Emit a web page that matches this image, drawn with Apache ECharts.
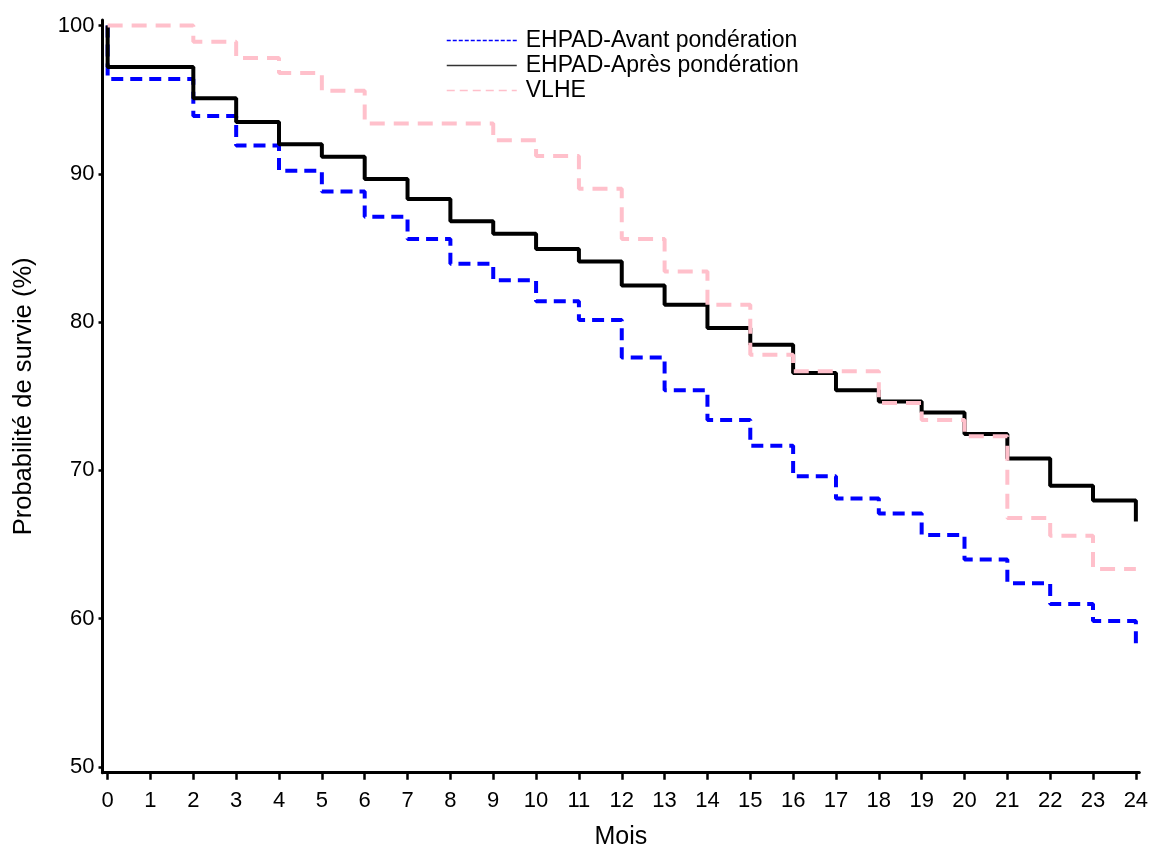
<!DOCTYPE html>
<html>
<head>
<meta charset="utf-8">
<script src="https://cdn.jsdelivr.net/npm/echarts@6/dist/echarts.min.js"></script>
<style>html,body{margin:0;padding:0;background:#fff}#c{width:1151px;height:848px}</style>
</head>
<body>
<div id="c"></div>
<script>
// ---- data ----
var xTicks = [0,1,2,3,4,5,6,7,8,9,10,11,12,13,14,15,16,17,18,19,20,21,22,23,24];
var yTicks = [50,60,70,80,90,100];

var avantName = 'EHPAD-Avant pondération';
var apresName = 'EHPAD-Après pondération';
var vlheName = 'VLHE';

var avantTimes  = [0,0,2,3,4,5,6,7,8,9,10,11,12,13,14,15,16,17,18,19,20,21,22,23,24];
var avantValues = [100,96.4,93.9,91.9,90.2,88.8,87.1,85.6,83.94,82.82,81.4,80.14,77.62,75.4,73.4,71.66,69.6,68.1,67.1,65.65,64.0,62.4,61.0,59.85,58.2];

var apresTimes  = [0,0,2,3,4,5,6,7,8,9,10,11,12,13,14,15,16,17,18,19,20,21,22,23,24];
var apresValues = [100,97.2,95.1,93.5,92.0,91.15,89.65,88.3,86.8,85.96,84.93,84.08,82.47,81.17,79.6,78.48,76.57,75.4,74.65,73.9,72.45,70.8,68.96,67.97,66.55];

var vlheTimes  = [0,2,3,4,5,6,9,10,11,12,13,14,15,16,18,19,20,21,22,23,24];
var vlheValues = [100,98.9,97.8,96.8,95.6,93.4,92.26,91.2,89.0,85.6,83.42,81.17,77.8,76.68,74.54,73.4,72.3,66.8,65.6,63.35,63.35];

function pairs(t, v) { return t.map(function (x, i) { return [x, v[i]]; }); }

var FONT = '"Liberation Sans", Arial, sans-serif';
var chart = echarts.init(document.getElementById('c'), null, { renderer: 'canvas' });
chart.setOption({
  animation: false,
  backgroundColor: '#ffffff',
  grid: { left: 102.5, right: 11.7, top: 20, bottom: 75.3, containLabel: false, outerBoundsMode: 'none' },
  legend: {
    orient: 'vertical',
    left: 441,
    top: 24,
    itemWidth: 70,
    itemHeight: 14,
    itemGap: 2,
    itemStyle: { opacity: 0 },
    textStyle: { fontFamily: FONT, fontSize: 23, lineHeight: 23, color: '#000', padding: [0, 0, 0, 4] },
    data: [
      { name: avantName, lineStyle: { width: 1.3, type: [4, 2] } },
      { name: apresName, lineStyle: { width: 1.5, type: 'solid', color: '#333' } },
      { name: vlheName, lineStyle: { width: 1.3, type: [8, 5] } }
    ]
  },
  xAxis: {
    type: 'value',
    min: -0.12,
    max: 24.08,
    name: 'Mois',
    nameLocation: 'middle',
    nameGap: 52,
    nameTextStyle: { fontFamily: FONT, fontSize: 25, color: '#000' },
    axisLine: { show: true, onZero: false, lineStyle: { color: '#000', width: 3 } },
    axisTick: { show: true, length: 7, lineStyle: { color: '#000', width: 2.5 }, customValues: xTicks },
    axisLabel: { fontFamily: FONT, fontSize: 22, color: '#000', margin: 17, customValues: xTicks },
    splitLine: { show: false }
  },
  yAxis: {
    type: 'value',
    min: 49.62,
    max: 100.37,
    name: 'Probabilité de survie (%)',
    nameLocation: 'middle',
    nameGap: 66,
    nameTextStyle: { fontFamily: FONT, fontSize: 25.5, color: '#000' },
    axisLine: { show: true, onZero: false, lineStyle: { color: '#000', width: 3 } },
    axisTick: { show: true, length: 4, lineStyle: { color: '#000', width: 2.5 }, customValues: yTicks },
    axisLabel: { fontFamily: FONT, fontSize: 22, color: '#000', margin: 8, customValues: yTicks },
    splitLine: { show: false }
  },
  series: [
    {
      name: avantName, type: 'line', step: 'end', symbol: 'none', z: 2,
      lineStyle: { color: '#0000ff', width: 4, type: [12, 7] },
      itemStyle: { color: '#0000ff' },
      data: pairs(avantTimes, avantValues)
    },
    {
      name: apresName, type: 'line', step: 'end', symbol: 'none', z: 3,
      lineStyle: { color: '#000000', width: 4, type: 'solid' },
      itemStyle: { color: '#000000' },
      data: pairs(apresTimes, apresValues)
    },
    {
      name: vlheName, type: 'line', step: 'end', symbol: 'none', z: 4,
      lineStyle: { color: '#ffc0cb', width: 4, type: [15, 9] },
      itemStyle: { color: '#ffc0cb' },
      data: pairs(vlheTimes, vlheValues)
    }
  ]
});
</script>
</body>
</html>
